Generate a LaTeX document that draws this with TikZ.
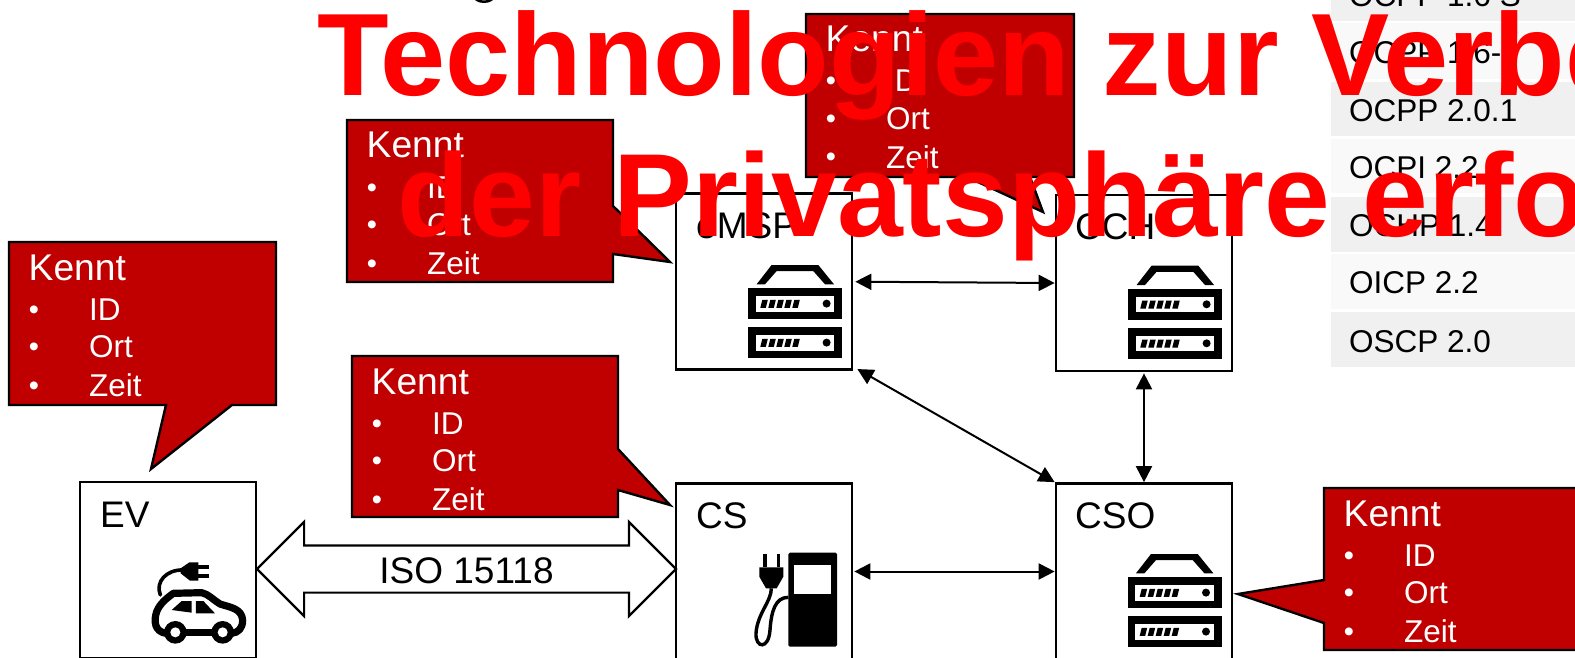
\documentclass[tikz,border=0pt]{standalone}
\usepackage{fontspec}
\setmainfont{Liberation Sans}
\usetikzlibrary{arrows.meta,calc,shapes.arrows}
\definecolor{kred}{HTML}{C00000}
\definecolor{rowa}{HTML}{F0F0F0}
\definecolor{rowb}{HTML}{F9F9F9}
\tikzset{
  box/.style={draw=black,line width=2.7pt,fill=white,minimum width=176pt,minimum height=176pt,inner sep=0pt},
  lbl/.style={anchor=base west,inner sep=0pt,font=\fontsize{37}{40}\selectfont},
  tabletext/.style={anchor=base west,inner sep=0pt,font=\fontsize{31.5}{36}\selectfont},
  title/.style={anchor=base west,inner sep=0pt,text=red,font=\fontsize{117.2}{130}\selectfont\bfseries},
  titleb/.style={anchor=base west,inner sep=0pt,text=red,font=\fontsize{118.2}{130}\selectfont\bfseries},
  calloutshape/.style={draw=black,fill=kred,line width=2.4pt,line join=miter},
  ctext/.style={anchor=base west,inner sep=0pt,text=white,font=\fontsize{31.5}{36}\selectfont},
  chead/.style={anchor=base west,inner sep=0pt,text=white,font=\fontsize{37.2}{40}\selectfont},
  cdot/.style={anchor=base,inner sep=0pt,text=white,font=\fontsize{29}{36}\selectfont},
  biarrow/.style={{Triangle[length=16pt,width=16pt]}-{Triangle[length=16pt,width=16pt]},line width=2pt,black},
  isoarrow/.style={double arrow,draw=black,fill=white,line width=2.2pt,minimum height=419pt,minimum width=92pt,
    double arrow head extend=23.5pt,double arrow tip angle=90,inner sep=0pt},
  server/.pic={
    \fill[black] (8.3,-4)--(23.3,-23.3)--(70,-23.3)--(85.7,-4)--(76.7,-4)--(65,-17.2)--(28.3,-17.2)--(16.7,-4)--cycle;
    \foreach \dy in {0,39}{
      \fill[black] (0,\dy) rectangle (94,\dy+31);
      \fill[white] (7.7,\dy+7.7) rectangle (86,\dy+23.3);
      \fill[black] (78.3,\dy+15.3) circle (4);
      \foreach \dx in {0,8,16,24,32}{
        \fill[black] (14+\dx,\dy+11.5)--(19.5+\dx,\dy+11.5)--(17.5+\dx,\dy+19.5)--(12+\dx,\dy+19.5)--cycle;
      }
    }
  }
}
\newcommand{\kennt}[3]{%
  \node[chead] (#3k) at (#1+19.5,#2+38) {Kennt};
  \node[cdot] (#3a) at (#1+25,#2+77) {•};
  \node[ctext] (#3i) at (#1+80,#2+78) {ID};
  \node[cdot] (#3b) at (#1+25,#2+114.5) {•};
  \node[ctext] (#3o) at (#1+80,#2+115.5) {Ort};
  \node[cdot] (#3c) at (#1+25,#2+153) {•};
  \node[ctext] (#3z) at (#1+80,#2+154) {Zeit};
}
\begin{document}
\begin{tikzpicture}[x=1pt,y=-1pt]
\useasboundingbox (0,0) rectangle (1575,658);
\clip (0,0) rectangle (1575,658);

% table
\foreach \ya/\yb/\c in {-35/21/rowa,23/79/rowb,82/136/rowa,139/193/rowb,197/252/rowa,254/309/rowb,312/367/rowa}{
  \fill[\c] (1331,\ya) rectangle (1580,\yb);
}
\node[tabletext] (r1) at (1349,7) {OCPP 1.6 S};
\node[tabletext] (r2) at (1349,63.7) {OCPP 1.6-J};
\node[tabletext] (r3) at (1349,121.7) {OCPP 2.0.1};
\node[tabletext] (r4) at (1349,178.7) {OCPI 2.2};
\node[tabletext] (r5) at (1349,236.7) {OCHP 1.4};
\node[tabletext] (r6) at (1349,293.7) {OICP 2.2};
\node[tabletext] (r7) at (1349,352) {OSCP 2.0};

% clipped remnant at the top edge
\draw[line width=2.5pt,black] (476,-0.5) .. controls (480,2.5) and (488,2.5) .. (492,-0.5);

% boxes
\node[box] (ev) at (168,570) {};
\node[box] (cs) at (764,571.5) {};
\node[box] (emsp) at (764,281.7) {};
\node[box] (cch) at (1144,283) {};
\node[box] (cso) at (1144,571.5) {};

\node[lbl] (evl) at (100,527) {EV};
\node[lbl] (csl) at (696,528) {CS};
\node[lbl] (emspl) at (696,238) {eMSP};
\node[lbl] (cchl) at (1075,239) {CCH};
\node[lbl] (csol) at (1075,528) {CSO};

% server icons
\pic at (748.3,288.3) {server};
\pic at (1128.3,289) {server};
\pic at (1127.7,577.3) {server};

% car icon
\begin{scope}[shift={(60,470)},scale=1/3]
  \draw[black,line width=7.2pt,line join=round,line cap=round] (318,490) .. controls (285,485) and (280,455) .. (290,425)
     .. controls (300,400) and (320,385) .. (340,370) -- (425,368) .. controls (445,372) and (460,390) .. (480,402)
     .. controls (510,412) and (545,415) .. (548,450) .. controls (548,475) and (535,488) .. (515,490);
  \draw[black,line width=7.2pt] (360,487) -- (475,487);
  \fill[black] (335,420) -- (365,393) -- (395,393) -- (395,428) -- cycle;
  \fill[black] (408,393) -- (430,393) -- (465,430) -- (408,430) -- cycle;
  \foreach \wx in {346,488}{
    \fill[black] (\wx,487) circle (34);
    \fill[white] (\wx,487) circle (15);
  }
  \draw[black,line width=3.6pt,line cap=round] (301,375) .. controls (285,335) and (320,298) .. (370,300);
  \fill[black] (362,295) -- (388,277) -- (415,277) -- (415,332) -- (390,332) -- (362,310) -- cycle;
  \draw[black,line width=4pt] (415,292) -- (446,292) (415,319) -- (446,319);
\end{scope}

% pump icon
\begin{scope}[shift={(670,470)},scale=1/3]
  \fill[black,rounded corners=1.5pt] (355,248) rectangle (501,530);
  \fill[white] (373,285) rectangle (482,372);
  \fill[black] (268,292) -- (340,292) -- (340,320) -- (320,355) -- (288,355) -- (268,320) -- cycle;
  \fill[black] (280,252) rectangle (290,292);
  \fill[black] (320,252) rectangle (330,292);
  \draw[black,line width=3.4pt] (304,355) .. controls (304,395) and (262,430) .. (258,490)
     .. controls (256,535) and (296,540) .. (300,480) .. controls (304,425) and (315,382) .. (355,382);
\end{scope}

% connectors
\draw[biarrow,shorten <=2pt] (emsp.east) -- (cch.west);
\draw[biarrow] ($(emsp.south east)+(4,-2)$) -- (cso.north west);
\draw[biarrow,shorten <=1pt] (cch.south) -- (cso.north);
\draw[biarrow,shorten <=1pt] (cs.east) -- (cso.west);
\node[isoarrow] (iso) at (466.5,569) {\rule{0pt}{45pt}};
\node[lbl,anchor=base] (isol) at (466.5,583) {ISO 15118};

% callouts
\draw[calloutshape] (9,242) -- (276,242) -- (276,405) -- (232,405) -- (151,469) -- (166,405) -- (9,405) -- cycle;
\kennt{9}{242}{ca}
\draw[calloutshape] (352,356) -- (618,356) -- (618,449) -- (670,505) -- (618,490) -- (618,517) -- (352,517) -- cycle;
\kennt{352}{356}{cb}
\draw[calloutshape] (347,120) -- (613,120) -- (613,206) -- (670,262) -- (613,254) -- (613,282) -- (347,282) -- cycle;
\kennt{347}{120}{cc}
\draw[calloutshape] (806,14) -- (1074,14) -- (1074,177) -- (1030,177) -- (1043,212) -- (967,177) -- (806,177) -- cycle;
\kennt{806}{14}{cd}
\draw[calloutshape] (1324,488) -- (1590,488) -- (1590,650) -- (1324,650) -- (1324,623) -- (1238,594) -- (1324,580) -- cycle;
\kennt{1324}{488}{ce}

% title
\node[title] (t1) at (317,95.7) {Technologien zur Verbe};
\node[titleb] (t2) at (397,236.7) {der Privatsphäre erfo};
\end{tikzpicture}
\end{document}
